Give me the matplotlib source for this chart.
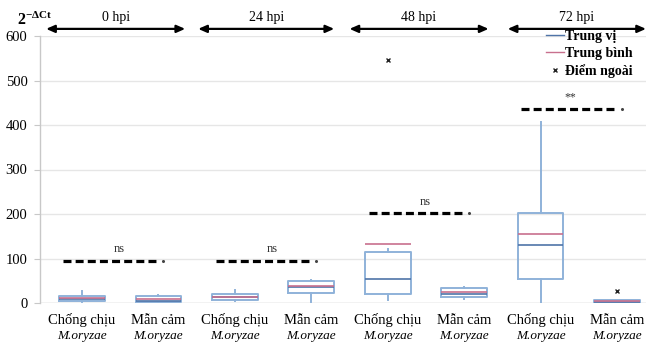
import matplotlib
matplotlib.use("Agg")
import matplotlib.pyplot as plt
from matplotlib.lines import Line2D

# ---------------- data ----------------
categories = ["Chống chịu", "Mẫn cảm", "Chống chịu", "Mẫn cảm",
              "Chống chịu", "Mẫn cảm", "Chống chịu", "Mẫn cảm"]
species = "M.oryzae"
timepoints = ["0 hpi", "24 hpi", "48 hpi", "72 hpi"]

whisker_low = [2, 1, 4, 2, 7, 8, 0, 0]
q1 = [5, 2, 6, 22, 21, 13, 55, 1]
medians = [10, 4, 13, 35, 53, 20, 131, 3]
means = [12, 8, 14, 39, 133, 24, 154, 5]
q3 = [15, 15, 21, 50, 114, 33, 203, 7]
whisker_high = [28, 18, 30, 52, 121, 37, 407, 7]
outliers = [[], [], [], [], [546], [], [], [28]]

sig_levels = [95, 95, 202, 436]
sig_labels = ["ns", "ns", "ns", "**"]

yticks = [0, 100, 200, 300, 400, 500, 600]
legend_labels = ["Trung vị", "Trung bình", "Điểm ngoài"]

# ---------------- style ----------------
serif = ["Liberation Serif", "DejaVu Serif"]
plt.rcParams["font.family"] = serif
plt.rcParams["mathtext.fontset"] = "custom"
plt.rcParams["mathtext.rm"] = "Liberation Serif"
plt.rcParams["mathtext.bf"] = "Liberation Serif:bold"
plt.rcParams["mathtext.it"] = "Liberation Serif:italic"

box_col = "#8fb2d9"
med_col = "#4f74a8"
mean_col = "#c8708e"
grid_col = "#e6e6e6"

fig = plt.figure(figsize=(6.46, 3.44), dpi=100)
W, H = 646, 344
ax = fig.add_axes([40 / W, 1 - 303 / H, 1 - 40 / W, (303 - 36) / H])

positions = list(range(1, len(categories) + 1))
stats = []
for i in range(len(categories)):
    stats.append(dict(med=medians[i], q1=q1[i], q3=q3[i],
                      whislo=whisker_low[i], whishi=whisker_high[i],
                      mean=means[i], fliers=outliers[i]))

ax.bxp(stats, positions=positions, widths=0.6, showmeans=True, meanline=True,
       showcaps=False, patch_artist=False,
       boxprops=dict(color=box_col, linewidth=1.4),
       whiskerprops=dict(color=box_col, linewidth=1.4),
       medianprops=dict(color=med_col, linewidth=1.2),
       meanprops=dict(color=mean_col, linewidth=1.2, linestyle="-"),
       flierprops=dict(marker="x", markersize=3.5, markeredgecolor="#222222",
                       markeredgewidth=1.0, linestyle="none"))

ax.set_xlim(0.45, 8.38)
ax.set_ylim(0, 600)
ax.set_yticks(yticks)
ax.set_yticklabels([str(v) for v in yticks], fontsize=10.5)
ax.yaxis.grid(True, color=grid_col, linewidth=1.0)
ax.set_axisbelow(True)
for s in ["top", "right", "bottom"]:
    ax.spines[s].set_visible(False)
ax.spines["left"].set_color("#c8c8c8")
ax.spines["left"].set_linewidth(1.0)
ax.tick_params(axis="y", length=4, color="#c8c8c8", pad=5)
ax.set_xticks([])
ax.axhline(0, color="#cfcfcf", linewidth=1.0, zorder=0)

# category labels (two lines)
for p, c in zip(positions, categories):
    ax.annotate(c, xy=(p, 0), xycoords=("data", "axes fraction"),
                xytext=(0, -12.5), textcoords="offset points",
                ha="center", va="center", fontsize=10.5)
    ax.annotate(species, xy=(p, 0), xycoords=("data", "axes fraction"),
                xytext=(0, -24), textcoords="offset points",
                ha="center", va="center", fontsize=9.5, style="italic")

# significance dashed lines
for k, (lvl, lab) in enumerate(zip(sig_levels, sig_labels)):
    left = positions[2 * k] - 0.25
    right = positions[2 * k + 1] + 0.02
    ax.plot([left, right - 0.04], [lvl, lvl], color="black", linewidth=2.3,
            dashes=(2.5, 1.3), solid_capstyle="butt", dash_capstyle="butt")
    ax.plot([right + 0.04], [lvl], marker="o", markersize=1.2, color="#444444")
    off = 0.1 if lab == "ns" else 0.0
    ax.text((left + right) / 2 + off, lvl + 12, lab, ha="center", va="bottom",
            fontsize=9 if lab == "ns" else 8.5, color="#333333")

# time point arrows above plot
arrow_y = 616
arrow_spans = [(0.53, 2.35), (2.52, 4.3), (4.5, 6.32), (6.57, 8.38)]
for (a, b), t in zip(arrow_spans, timepoints):
    ax.annotate("", xy=(a, arrow_y), xytext=(b, arrow_y), xycoords="data",
                arrowprops=dict(arrowstyle="<|-|>,head_length=0.5,head_width=0.22",
                                color="black", linewidth=1.6, shrinkA=0, shrinkB=0),
                annotation_clip=False)
    ax.text((a + b) / 2, arrow_y + 12, t, ha="center", va="bottom", fontsize=10,
            clip_on=False)

# y-axis unit label
fig.text(17 / W, 1 - 25 / H, r"$\mathbf{2^{-\Delta Ct}}$", fontsize=11.5,
         ha="left", va="baseline")

# legend
handles = [Line2D([0], [0], color=med_col, linewidth=1.0),
           Line2D([0], [0], color=mean_col, linewidth=1.0),
           Line2D([0], [0], marker="x", color="#222222", linestyle="none",
                  markersize=3.5, markeredgewidth=1.0)]
fig.legend(handles, legend_labels, loc="upper left",
           bbox_to_anchor=(546 / W, 1 - 30 / H), frameon=False,
           handlelength=1.3, handletextpad=0.05, labelspacing=0.28,
           borderaxespad=0, borderpad=0,
           prop=dict(family=serif, weight="bold", size=10))

fig.savefig("out.png", dpi=100)
